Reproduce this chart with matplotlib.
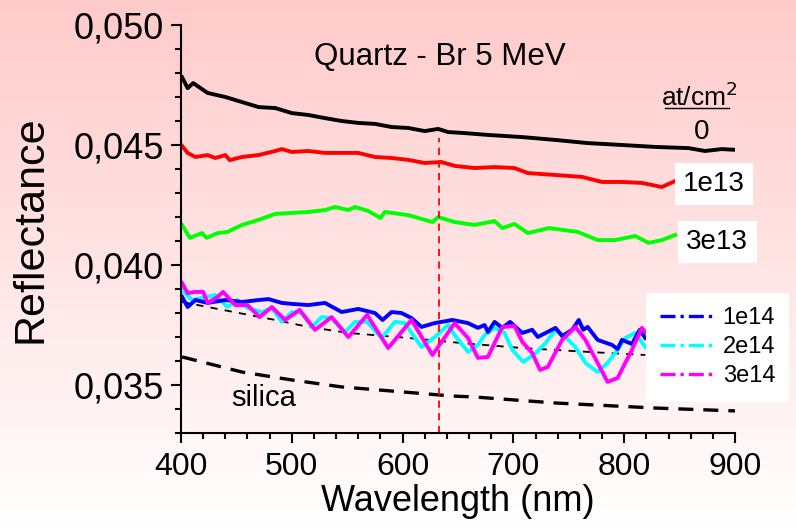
import numpy as np
import matplotlib
matplotlib.use('Agg')
import matplotlib.pyplot as plt
from matplotlib.lines import Line2D
from matplotlib.ticker import MultipleLocator, FuncFormatter
from matplotlib.colors import LinearSegmentedColormap

plt.rcParams['font.family'] = ['Liberation Sans', 'DejaVu Sans']

# fluence 0
wl_0 = [401, 406, 411, 424, 440, 455, 470, 485, 500, 515, 530, 545, 560, 575, 590,
        605, 620, 632, 641, 655, 677, 708, 738, 767, 798, 828, 858, 873, 888, 900]
r_0 = [0.04782, 0.04737, 0.04758, 0.04717, 0.04700, 0.04679, 0.04658, 0.04654, 0.04633,
       0.04625, 0.04612, 0.04600, 0.04592, 0.04588, 0.04575, 0.04571, 0.04558, 0.04567,
       0.04554, 0.04550, 0.04542, 0.04533, 0.04521, 0.04508, 0.04500, 0.04492, 0.04487,
       0.04475, 0.04483, 0.04480]

# 1e13
wl_1e13 = [401, 406, 413, 424, 431, 440, 444, 455, 470, 485, 491, 500, 515, 530, 545, 560,
           575, 590, 605, 620, 635, 647, 665, 683, 701, 713, 738, 762, 780, 798, 816, 834, 846]
r_1e13 = [0.04496, 0.04467, 0.04450, 0.04458, 0.04446, 0.04458, 0.04437, 0.04450, 0.04458,
          0.04475, 0.04483, 0.04471, 0.04475, 0.04467, 0.04467, 0.04467, 0.04450, 0.04446,
          0.04438, 0.04425, 0.04429, 0.04413, 0.04404, 0.04408, 0.04404, 0.04383, 0.04375,
          0.04367, 0.04346, 0.04346, 0.04342, 0.04325, 0.04350]

# 3e13
wl_3e13 = [401, 408, 419, 423, 433, 442, 455, 470, 485, 500, 515, 530, 539, 551, 557, 569,
           580, 584, 605, 627, 632, 647, 665, 683, 690, 701, 713, 732, 758, 776, 792, 810,
           822, 834, 846]
r_3e13 = [0.04167, 0.04113, 0.04133, 0.04113, 0.04133, 0.04138, 0.04167, 0.04188, 0.04213,
          0.04217, 0.04221, 0.04229, 0.04242, 0.04229, 0.04242, 0.04225, 0.04196, 0.04221,
          0.04208, 0.04179, 0.04200, 0.04179, 0.04167, 0.04183, 0.04154, 0.04171, 0.04133,
          0.04154, 0.04138, 0.04104, 0.04104, 0.04121, 0.04092, 0.04104, 0.04125]

# 1e14
wl_1e14 = [401, 406, 413, 424, 440, 455, 470, 479, 491, 500, 515, 530, 545, 560, 575, 582,
           590, 599, 608, 617, 629, 645, 659, 668, 674, 677, 683, 690, 697, 708, 717, 722,
           738, 744, 753, 759, 763, 767, 776, 789, 794, 798, 807, 814, 819]
r_1e14 = [0.03867, 0.03825, 0.03854, 0.03842, 0.03854, 0.03846, 0.03854, 0.03858, 0.03842,
          0.03838, 0.03833, 0.03842, 0.03804, 0.03817, 0.03800, 0.03771, 0.03804, 0.03800,
          0.03779, 0.03742, 0.03758, 0.03771, 0.03758, 0.03738, 0.03750, 0.03721, 0.03763,
          0.03738, 0.03763, 0.03717, 0.03730, 0.03700, 0.03738, 0.03704, 0.03730, 0.03771,
          0.03730, 0.03742, 0.03688, 0.03667, 0.03650, 0.03688, 0.03671, 0.03730, 0.03696]

# 2e14
wl_2e14 = [401, 410, 419, 431, 442, 451, 460, 473, 482, 491, 500, 509, 518, 527, 536, 548,
           557, 568, 581, 593, 602, 617, 629, 641, 647, 659, 668, 674, 683, 692, 699, 709,
           720, 729, 738, 747, 756, 765, 776, 785, 794, 801, 810, 819]
r_2e14 = [0.03896, 0.03854, 0.03863, 0.03875, 0.03825, 0.03854, 0.03821, 0.03804, 0.03821,
          0.03763, 0.03804, 0.03800, 0.03742, 0.03783, 0.03779, 0.03721, 0.03763, 0.03763,
          0.03696, 0.03763, 0.03758, 0.03658, 0.03700, 0.03750, 0.03708, 0.03638, 0.03667,
          0.03708, 0.03738, 0.03717, 0.03646, 0.03596, 0.03633, 0.03675, 0.03730, 0.03700,
          0.03658, 0.03592, 0.03554, 0.03592, 0.03646, 0.03696, 0.03717, 0.03658]

# 3e14
wl_3e14 = [401, 406, 413, 420, 424, 433, 438, 449, 460, 471, 482, 494, 507, 521, 536, 551,
           568, 587, 608, 627, 647, 659, 668, 677, 690, 701, 708, 717, 724, 731, 744, 756,
           765, 776, 785, 794, 807, 816, 819]
r_3e14 = [0.03925, 0.03883, 0.03888, 0.03888, 0.03842, 0.03867, 0.03888, 0.03833, 0.03833,
          0.03783, 0.03825, 0.03771, 0.03813, 0.03730, 0.03783, 0.03700, 0.03792, 0.03654,
          0.03771, 0.03625, 0.03758, 0.03696, 0.03613, 0.03617, 0.03742, 0.03746, 0.03680,
          0.03633, 0.03563, 0.03575, 0.03688, 0.03742, 0.03688, 0.03592, 0.03513, 0.03529,
          0.03646, 0.03738, 0.03721]

# thin dashed reference under the irradiated curves
wl_fit = [401, 424, 485, 515, 551, 605, 655, 708, 767, 819]
r_fit = [0.03846, 0.03825, 0.03771, 0.03742, 0.03717, 0.03696, 0.03674, 0.03654, 0.03638, 0.03625]

# silica
wl_sil = [401, 455, 500, 545, 645, 665, 738, 828, 900]
r_sil = [0.03617, 0.03554, 0.03521, 0.03492, 0.03454, 0.03450, 0.03425, 0.03404, 0.03392]

laser_wl = 632.8
legend_labels = ['1e14', '2e14', '3e14']
legend_colors = ['#0000ff', '#00ffff', '#ff00ff']

W, H = 796, 529
fig = plt.figure(figsize=(W / 100, H / 100), dpi=100)

# pink-to-white background
bg = fig.add_axes([0, 0, 1, 1], zorder=0)
grad = np.linspace(0, 1, 256).reshape(-1, 1)
cmap = LinearSegmentedColormap.from_list('bg', ['#ffffff', '#ffcaca'])
bg.imshow(grad, aspect='auto', cmap=cmap, extent=[0, 1, 0, 1], origin='lower')
bg.axis('off')

ax = fig.add_axes([181 / W, 1 - 433 / H, (735 - 181) / W, (433 - 25) / H], zorder=1)
ax.patch.set_alpha(0)

lw = 2.8
ax.plot(wl_0, r_0, color='black', lw=lw)
ax.plot(wl_1e13, r_1e13, color='#ff0000', lw=lw)
ax.plot(wl_3e13, r_3e13, color='#00ff00', lw=lw)
ax.plot(wl_fit, r_fit, color='black', lw=1.3, dashes=(4, 4))
ax.plot(wl_2e14, r_2e14, color='#00ffff', lw=lw)
ax.plot(wl_1e14, r_1e14, color='#0000ff', lw=lw)
ax.plot(wl_3e14, r_3e14, color='#ff00ff', lw=lw)
ax.plot(wl_sil, r_sil, color='black', lw=2.4, dashes=(4.5, 3))
ax.vlines(laser_wl, 0.033, 0.04530, color='#ff0000', lw=1.3, linestyles=(0, (4, 3)))

ax.set_xlim(400, 900)
ax.set_ylim(0.033, 0.050)
ax.xaxis.set_major_locator(MultipleLocator(100))
ax.xaxis.set_minor_locator(MultipleLocator(20))
ax.yaxis.set_major_locator(MultipleLocator(0.005))
ax.yaxis.set_minor_locator(MultipleLocator(0.001))
ax.yaxis.set_major_formatter(FuncFormatter(lambda v, p: ('%.3f' % v).replace('.', ',')))

for s in ['top', 'right']:
    ax.spines[s].set_visible(False)
for s in ['left', 'bottom']:
    ax.spines[s].set_linewidth(1.5)
ax.tick_params(which='major', direction='out', length=7, width=1.5)
ax.tick_params(which='minor', direction='out', length=4, width=1.5)
ax.tick_params(axis='y', which='major', labelsize=26, pad=5)
ax.tick_params(axis='x', which='major', labelsize=23, pad=7)

ax.set_xlabel('Wavelength (nm)', fontsize=26, labelpad=1)
ax.set_ylabel('Reflectance', fontsize=31, labelpad=17)

ax.text(634, 0.04867, 'Quartz - Br 5 MeV', fontsize=22.5, ha='center', va='center')
ax.text(868, 0.04662, 'at/cm$^2$', fontsize=19, ha='center', va='baseline')
ax.plot([837, 895], [0.04654, 0.04654], color='black', lw=1, clip_on=False)
ax.text(870, 0.04554, '0', fontsize=20, ha='center', va='center')
ax.text(881, 0.04338, '1e13', fontsize=20, ha='center', va='center', clip_on=False,
        bbox=dict(facecolor='white', edgecolor='none', pad=6))
ax.text(884, 0.04096, '3e13', fontsize=20, ha='center', va='center', clip_on=False,
        bbox=dict(facecolor='white', edgecolor='none', pad=6))
ax.text(475, 0.03446, 'silica', fontsize=21, ha='center', va='center')

handles = [Line2D([], [], color=c, lw=2.4, linestyle=(0, (4.5, 1.5, 1, 1.5))) for c in legend_colors]
leg = ax.legend(handles, legend_labels, loc='upper left', bbox_to_anchor=(646 / W, 1 - 293 / H),
                bbox_transform=fig.transFigure, borderaxespad=0, fontsize=17, handlelength=2.3,
                handletextpad=0.35, labelspacing=0.3, borderpad=0.6, frameon=True, fancybox=False)
leg.get_frame().set_facecolor('white')
leg.get_frame().set_edgecolor('none')
leg.get_frame().set_alpha(1)

fig.savefig('out.png', dpi=100)
